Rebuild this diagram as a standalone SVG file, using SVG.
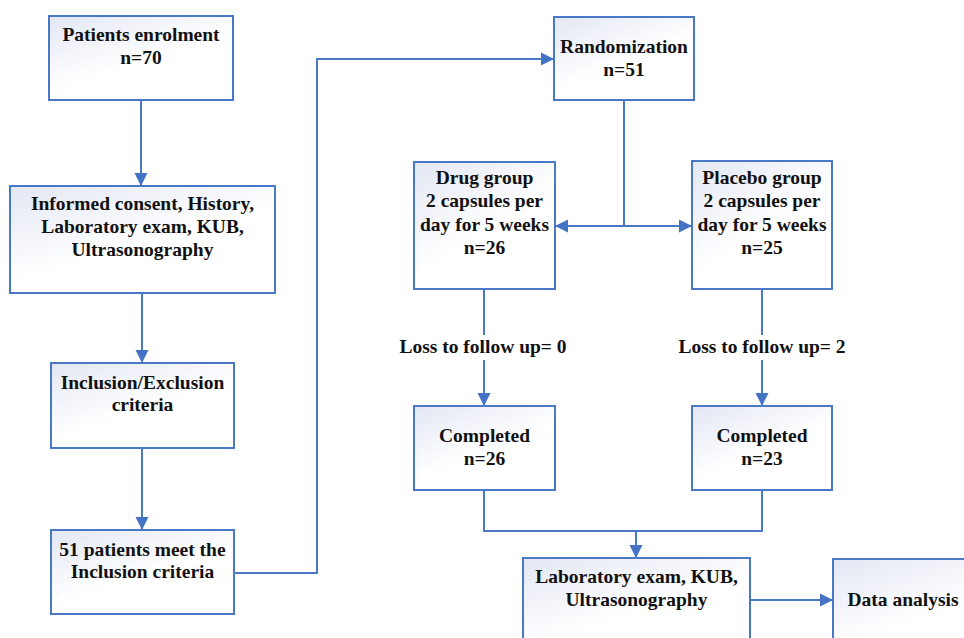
<svg xmlns="http://www.w3.org/2000/svg" width="964" height="638" viewBox="0 0 964 638">
<style>
.box{fill:url(#g);stroke:#4a78c6;stroke-width:2}
.ln{fill:none;stroke:#4a78c6;stroke-width:2}
.ar{marker-end:url(#ah)}
text{font-family:"Liberation Serif","Times New Roman",serif;font-weight:bold;font-size:19.5px;fill:#111;text-anchor:middle}
</style>
<defs>
<linearGradient id="g" x1="0" y1="0" x2="0.7" y2="1">
<stop offset="0" stop-color="#e2e7f3"/>
<stop offset="0.6" stop-color="#ffffff"/>
</linearGradient>
<marker id="ah" markerUnits="userSpaceOnUse" markerWidth="14" markerHeight="14" refX="13" refY="7" orient="auto">
<path d="M0,0.5 L13,7 L0,13.5 Z" fill="#4472c4"/>
</marker>
</defs>
<g id="connectors">
<path class="ln ar" d="M141,100 V186"/>
<path class="ln ar" d="M142,293 V363"/>
<path class="ln ar" d="M142,448 V530"/>
<path class="ln ar" d="M234,573 H317 V59 H554"/>
<path class="ln" d="M624,100 V226"/>
<path class="ln ar" d="M624,226 H555"/>
<path class="ln ar" d="M624,226 H692"/>
<path class="ln" d="M484,289 V335"/>
<path class="ln ar" d="M484,360 V406"/>
<path class="ln" d="M762,289 V335"/>
<path class="ln ar" d="M762,360 V406"/>
<path class="ln" d="M484,490 V531 H762 V490"/>
<path class="ln ar" d="M636,531 V558"/>
<path class="ln ar" d="M750,600 H833"/>
</g>
<g id="enrolment"><rect class="box" x="49" y="16" width="184" height="84"/><text x="141" y="41">Patients enrolment</text><text x="141" y="64">n=70</text></g>
<g id="consent"><rect class="box" x="10" y="186" width="265" height="107"/><text x="142.5" y="210">Informed consent, History,</text><text x="142.5" y="233">Laboratory exam, KUB,</text><text x="142.5" y="256">Ultrasonography</text></g>
<g id="criteria"><rect class="box" x="51" y="363" width="183" height="85"/><text x="142.5" y="389">Inclusion/Exclusion</text><text x="142.5" y="411">criteria</text></g>
<g id="meet"><rect class="box" x="51" y="530" width="183" height="84"/><text x="142.5" y="556">51 patients meet the</text><text x="142.5" y="578">Inclusion criteria</text></g>
<g id="randomization"><rect class="box" x="554" y="17" width="140" height="83"/><text x="624" y="53">Randomization</text><text x="624" y="76">n=51</text></g>
<g id="drug"><rect class="box" x="414" y="162" width="141" height="127"/><text x="484.5" y="184">Drug group</text><text x="484.5" y="207">2 capsules per</text><text x="484.5" y="231">day for 5 weeks</text><text x="484.5" y="254">n=26</text></g>
<g id="placebo"><rect class="box" x="692" y="161" width="140" height="128"/><text x="762" y="184">Placebo group</text><text x="762" y="207">2 capsules per</text><text x="762" y="231">day for 5 weeks</text><text x="762" y="254">n=25</text></g>
<g id="loss0"><text x="483" y="353">Loss to follow up= 0</text></g>
<g id="loss2"><text x="762" y="353">Loss to follow up= 2</text></g>
<g id="completed1"><rect class="box" x="414" y="406" width="141" height="84"/><text x="484.5" y="442">Completed</text><text x="484.5" y="465">n=26</text></g>
<g id="completed2"><rect class="box" x="692" y="406" width="140" height="84"/><text x="762" y="442">Completed</text><text x="762" y="465">n=23</text></g>
<g id="lab"><rect class="box" x="523" y="558" width="227" height="100"/><text x="636.5" y="583">Laboratory exam, KUB,</text><text x="636.5" y="606">Ultrasonography</text></g>
<g id="data"><rect class="box" x="833" y="559" width="200" height="100"/><text x="903" y="606">Data analysis</text></g>
</svg>
